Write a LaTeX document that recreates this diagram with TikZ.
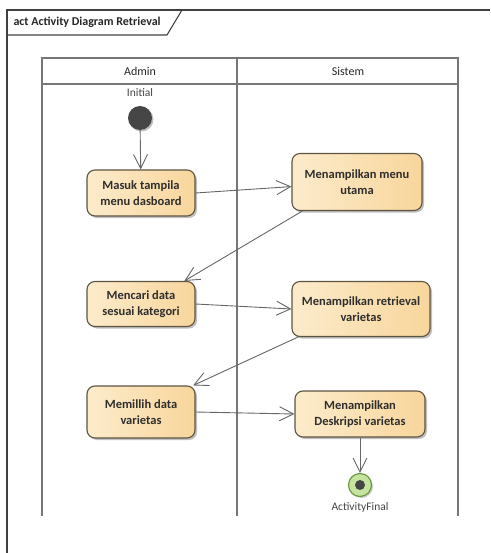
\documentclass[tikz,border=0pt]{standalone}
\usepackage{fontspec}
\setmainfont{Carlito}
\usetikzlibrary{arrows.meta,shadows}

\definecolor{framecol}{HTML}{404040}
\definecolor{lanecol}{HTML}{767676}
\definecolor{actborder}{HTML}{5E5442}
\definecolor{actleft}{HTML}{FCEBCB}
\definecolor{actright}{HTML}{F8D69C}
\definecolor{acttext}{HTML}{2E2E2E}
\definecolor{flowcol}{HTML}{666666}
\definecolor{initfill}{HTML}{464646}
\definecolor{finring}{HTML}{6F9A45}
\definecolor{finfill}{HTML}{C6E3A0}
\definecolor{labelcol}{HTML}{454545}

\begin{document}
\begin{tikzpicture}[x=1pt,y=-1pt,
  frameline/.style={draw=framecol,line width=1.1pt},
  laneline/.style={draw=lanecol,line width=1.8pt},
  lanehead/.style={font=\fontsize{12}{14}\selectfont,text=black!85},
  action/.style={draw=actborder,line width=1.1pt,rounded corners=8pt,
    left color=actleft,right color=actright,
    drop shadow={shadow xshift=2pt,shadow yshift=-2pt,fill=black,opacity=0.25},
    font=\bfseries\fontsize{12.5}{15.5}\selectfont,text=acttext,
    align=center,inner sep=2pt},
  flow/.style={draw=flowcol,line width=0.9pt,
    -{Straight Barb[length=14pt,width=14pt,line width=0.9pt]}},
  tag/.style={font=\fontsize{11.5}{13}\selectfont,text=labelcol}]

\useasboundingbox (0,0) rectangle (490,553);

% diagram frame with its name tab
\draw[frameline] (7,553) -- (7,10) -- (490,10);
\draw[frameline] (7,35) -- (167,35) -- (182,10);
\node[anchor=west,font=\bfseries\fontsize{12}{14}\selectfont,text=black!85]
  (title) at (10,22) {act Activity Diagram Retrieval};

% swimlanes
\draw[laneline] (42,516) -- (42,58) -- (458,58) -- (458,516);
\draw[laneline] (42,84) -- (458,84);
\draw[laneline] (237,58) -- (237,516);
\node[lanehead] (hadmin) at (140,71) {Admin};
\node[lanehead] (hsistem) at (348,71) {Sistem};

% start and end
\node[circle,fill=initfill,minimum size=24pt,inner sep=0pt,
  drop shadow={shadow xshift=1.5pt,shadow yshift=-1.5pt,fill=black,opacity=0.25}]
  (init) at (140,118) {};
\node[tag] (initlabel) at (140,93) {Initial};

\node[circle,draw=finring,line width=1.2pt,fill=finfill,minimum size=23pt,inner sep=0pt,
  drop shadow={shadow xshift=1.5pt,shadow yshift=-1.5pt,fill=black,opacity=0.2}]
  (fin) at (360,485) {};
\node[circle,fill=initfill,minimum size=10pt,inner sep=0pt] (findot) at (fin) {};
\node[tag] (finlabel) at (360,507) {ActivityFinal};

% actions
\node[action,minimum width=108pt,minimum height=46pt] (a1) at (141,193)
  {Masuk tampila\\menu dasboard};
\node[action,minimum width=130pt,minimum height=57pt] (s1) at (357,182)
  {Menampilkan menu\\utama};
\node[action,minimum width=108pt,minimum height=45pt] (a2) at (141,304)
  {Mencari data\\sesuai kategori};
\node[action,minimum width=138pt,minimum height=55pt] (s2) at (361,309)
  {Menampilkan retrieval\\varietas};
\node[action,minimum width=108pt,minimum height=52pt] (a3) at (141,412)
  {Memillih data\\varietas};
\node[action,minimum width=130pt,minimum height=46pt] (s3) at (360,414)
  {Menampilkan\\Deskripsi varietas};

% control flows
\draw[flow] (init) -- (a1);
\draw[flow] (a1.east) -- (s1.184);
\draw[flow] (s1.208.7) -- (a2.28);
\draw[flow] (a2.east) -- (s2.west);
\draw[flow] (s2.204) -- (a3.27);
\draw[flow] (a3.east) -- (s3.west);
\draw[flow] (s3.south) -- (fin.north);

\end{tikzpicture}
\end{document}
